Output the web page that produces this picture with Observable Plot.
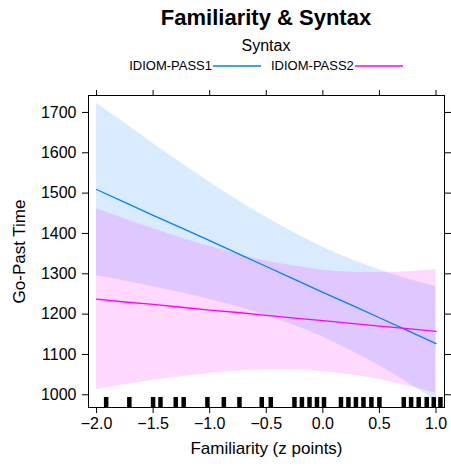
<!DOCTYPE html>
<html>
<head>
<meta charset="utf-8">
<script src="https://cdn.jsdelivr.net/npm/d3@7"></script>
<script src="https://cdn.jsdelivr.net/npm/@observablehq/plot@0.6"></script>
<style>
  html, body { margin: 0; padding: 0; background: #fff; }
  body { width: 451px; height: 467px; overflow: hidden; font-family: "Liberation Sans", Arial, Helvetica, sans-serif; }
  #header { position: relative; width: 451px; height: 80px; }
  .row { position: absolute; left: 88px; right: 7px; text-align: center; color: #000; white-space: nowrap; }
  #title { top: 0; height: 36px; line-height: 36px; font-size: 22px; font-weight: bold; }
  #subtitle { top: 36px; height: 20px; line-height: 20px; font-size: 16px; }
  #legend { top: 58px; height: 16px; line-height: 16px; font-size: 13px; display: flex; justify-content: center; align-items: center; }
  .item { display: flex; align-items: center; }
  .item + .item { margin-left: 10px; }
  .item svg { margin-left: 1px; }
</style>
</head>
<body>
<div id="header">
  <div class="row" id="title"></div>
  <div class="row" id="subtitle"></div>
  <div class="row" id="legend"></div>
</div>
<div id="chart"></div>
<script>
// ---- data ----
const titleText = "Familiarity & Syntax";
const legendTitle = "Syntax";
const seriesNames = ["IDIOM-PASS1", "IDIOM-PASS2"];
const seriesColors = ["#0080ff", "#ff00ff"];

const familiarity = [-2, -1.75, -1.5, -1.25, -1, -0.75, -0.5, -0.25, 0, 0.25, 0.5, 0.75, 1];
const pass1Fit = [1509, 1477, 1445, 1414, 1382, 1350, 1318, 1286, 1254, 1223, 1191, 1159, 1127];
const pass1Lo  = [1295, 1282, 1268, 1253, 1236, 1218, 1196, 1172, 1143, 1109, 1072, 1030, 986];
const pass1Hi  = [1723, 1673, 1623, 1574, 1527, 1482, 1440, 1401, 1366, 1336, 1310, 1287, 1268];
const pass2Fit = [1237, 1230, 1224, 1217, 1210, 1204, 1197, 1190, 1184, 1177, 1170, 1164, 1157];
const pass2Lo  = [1013, 1025, 1036, 1045, 1053, 1059, 1062, 1062, 1058, 1050, 1038, 1022, 1004];
const pass2Hi  = [1461, 1436, 1412, 1389, 1368, 1348, 1332, 1319, 1309, 1304, 1303, 1305, 1310];

const rugX = [-1.915, -1.71, -1.50, -1.435, -1.30, -1.23, -1.02, -0.875, -0.737, -0.54, -0.46,
  -0.251, -0.185, -0.118, -0.052, 0.010, 0.160, 0.226, 0.292, 0.359, 0.429, 0.500,
  0.715, 0.780, 0.847, 0.918, 0.980, 1.039];

const xTicks = [-2, -1.5, -1, -0.5, 0, 0.5, 1];
const yTicks = [1000, 1100, 1200, 1300, 1400, 1500, 1600, 1700];
const xLabel = "Familiarity (z points)";
const yLabel = "Go-Past Time";

// ---- header ----
document.getElementById("title").textContent = titleText;
document.getElementById("subtitle").textContent = legendTitle;
const legend = document.getElementById("legend");
seriesNames.forEach((name, i) => {
  const item = document.createElement("div");
  item.className = "item";
  const t = document.createElement("span");
  t.textContent = name;
  item.appendChild(t);
  const ns = "http://www.w3.org/2000/svg";
  const s = document.createElementNS(ns, "svg");
  s.setAttribute("width", 48); s.setAttribute("height", 6);
  const l = document.createElementNS(ns, "line");
  l.setAttribute("x1", 0); l.setAttribute("x2", 48); l.setAttribute("y1", 3); l.setAttribute("y2", 3);
  l.setAttribute("stroke", seriesColors[i]); l.setAttribute("stroke-width", 1.5);
  s.appendChild(l);
  item.appendChild(s);
  legend.appendChild(item);
});

// ---- table ----
const rows = [];
familiarity.forEach((x, i) => {
  rows.push({series: seriesNames[0], x, fit: pass1Fit[i], lo: pass1Lo[i], hi: pass1Hi[i]});
});
familiarity.forEach((x, i) => {
  rows.push({series: seriesNames[1], x, fit: pass2Fit[i], lo: pass2Lo[i], hi: pass2Hi[i]});
});
const s1 = rows.filter(d => d.series === seriesNames[0]);
const s2 = rows.filter(d => d.series === seriesNames[1]);

const H = 387, MT = 15, MB = 60;
const panelH = H - MT - MB;
const font = "Liberation Sans, Arial, Helvetica, sans-serif";

const chart = Plot.plot({
  width: 451,
  height: H,
  marginLeft: 88,
  marginRight: 7,
  marginTop: MT,
  marginBottom: MB,
  style: {fontFamily: font, fontSize: "16px", color: "#000", background: "#fff"},
  x: {domain: [-2.071, 1.075], label: xLabel},
  y: {domain: [968.5, 1742], label: yLabel},
  marks: [
    Plot.areaY(s1, {x: "x", y1: "lo", y2: "hi", fill: seriesColors[0], fillOpacity: 0.15, curve: "natural"}),
    Plot.areaY(s2, {x: "x", y1: "lo", y2: "hi", fill: seriesColors[1], fillOpacity: 0.15, curve: "natural"}),
    Plot.line(s1, {x: "x", y: "fit", stroke: seriesColors[0], strokeWidth: 1.3}),
    Plot.line(s2, {x: "x", y: "fit", stroke: seriesColors[1], strokeWidth: 1.3}),
    Plot.tickX(rugX, {x: d => d, stroke: "#000", strokeWidth: 4.5, insetTop: panelH - 10}),
    Plot.frame({stroke: "#000", strokeWidth: 1}),
    Plot.axisX({anchor: "bottom", ticks: xTicks, tickFormat: d3.format(".1f"), tickSize: 6, tickPadding: 4,
      fontSize: 16, label: null}),
    Plot.axisX({anchor: "bottom", ticks: [], label: xLabel, labelArrow: "none", labelAnchor: "center",
      labelOffset: 46, fontSize: 17}),
    Plot.axisX({anchor: "top", ticks: xTicks, tickFormat: () => "", tickSize: 6, label: null}),
    Plot.axisY({anchor: "left", ticks: yTicks, tickFormat: d3.format("d"), tickSize: 6, tickPadding: 6, fontSize: 16,
      label: null}),
    Plot.axisY({anchor: "left", ticks: [], label: yLabel, labelArrow: "none", labelAnchor: "center",
      labelOffset: 76, fontSize: 17}),
    Plot.axisY({anchor: "right", ticks: yTicks, tickFormat: () => "", tickSize: 6, label: null})
  ]
});
document.getElementById("chart").appendChild(chart);
</script>
</body>
</html>
